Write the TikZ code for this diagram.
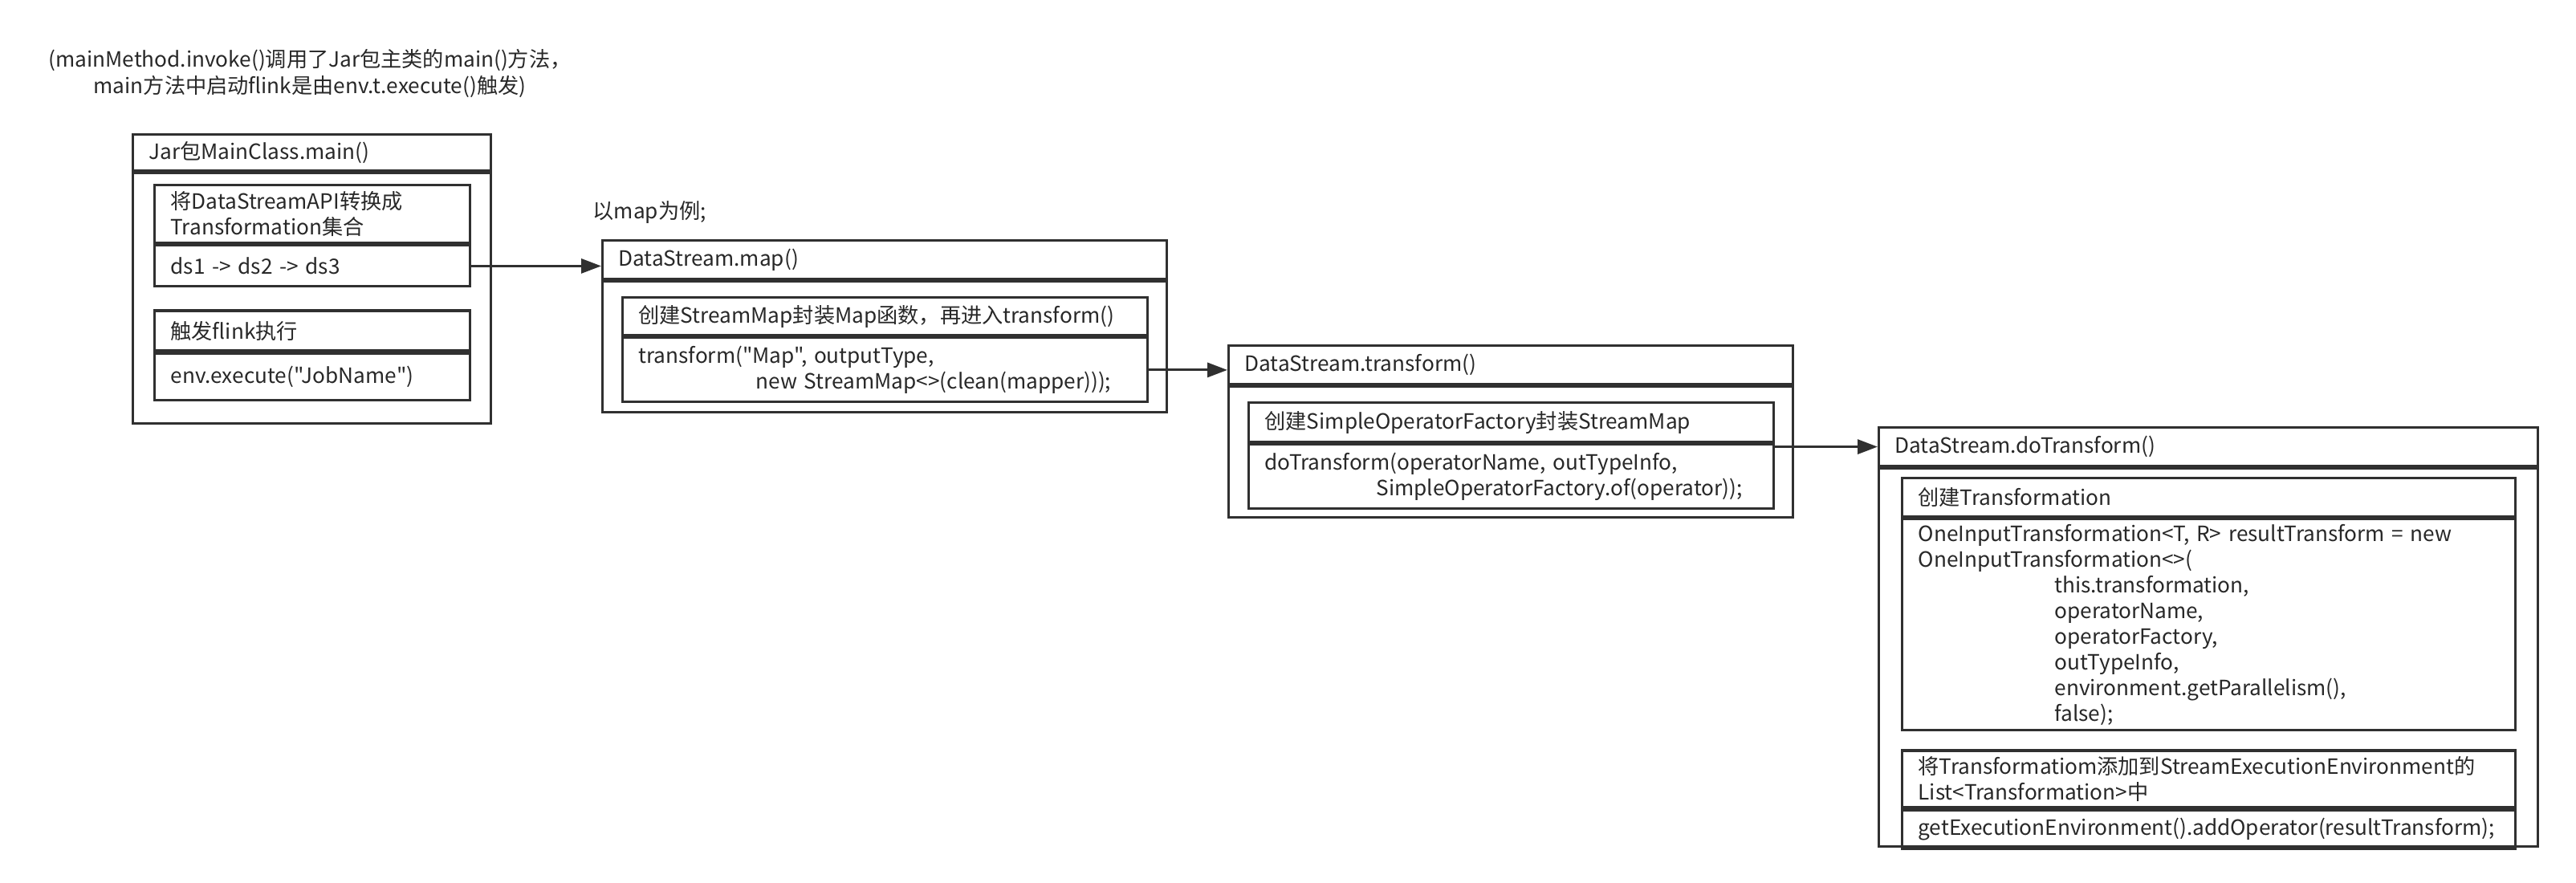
\documentclass[tikz,border=0pt]{standalone}
\usepackage{fontspec}
\setmainfont{Noto Sans CJK SC}[Ligatures=TeXOff]
\usetikzlibrary{shapes,arrows.meta,positioning,calc}
\definecolor{linegray}{RGB}{48,48,48}
\definecolor{textgray}{RGB}{40,40,40}
\hyphenpenalty=10000
\exhyphenpenalty=10000

\begin{document}
\begin{tikzpicture}[
      node distance=0cm and 0cm,
      every node/.style={font=\fontsize{7.45pt}{9.1pt}\selectfont, text=textgray},
      note/.style={inner sep=0pt},
      head/.style={rectangle, draw=linegray, line width=0.9pt, align=left, inner xsep=0.2cm, inner ysep=0pt, text width=#1},
      frame/.style={rectangle, draw=linegray, line width=0.9pt, inner sep=0pt},
      arrow/.style={-{Triangle[length=0.25cm,width=0.18cm]}, line width=0.9pt, draw=linegray}
    ]
      \path[use as bounding box, fill=white] (0,0) rectangle (32.09,-11.00);

      \node[note, align=center, font=\fontsize{7.45pt}{9.4pt}\selectfont] (intro) at (3.86,-0.915) {(mainMethod.invoke()调用了Jar包主类的main()方法，\\main方法中启动flink是由env.t.execute()触发)};

      \node[head=4.06cm, minimum height=0.45cm, anchor=north west] (jarhead) at (1.64,-1.66) {Jar包MainClass.main()};
      \node[frame, minimum width=4.46cm, minimum height=3.12cm, below right=of jarhead.south west] (jarbody) {};
      \node[head=3.53cm, minimum height=0.72cm, below right=0.15cm and 0.27cm of jarbody.north west] (convert) {将DataStreamAPI转换成\\Transformation集合};
      \node[head=3.53cm, minimum height=0.51cm, below right=of convert.south west] (convertcode) {ds1 -> ds2 -> ds3};
      \node[head=3.53cm, minimum height=0.50cm, below right=0.27cm and 0cm of convertcode.south west] (trigger) {触发flink执行};
      \node[head=3.53cm, minimum height=0.58cm, below right=of trigger.south west] (triggercode) {env.execute("JobName")};

      \node[note, anchor=west] (mapnote) at (7.38,-2.65) {以map为例;};
      \node[head=6.63cm, minimum height=0.48cm, anchor=north west] (maphead) at (7.49,-2.98) {DataStream.map()};
      \node[frame, minimum width=7.03cm, minimum height=1.63cm, below right=of maphead.south west] (mapbody) {};
      \node[head=6.14cm, minimum height=0.47cm, below right=0.20cm and 0.25cm of mapbody.north west] (wrapmap) {创建StreamMap封装Map函数，再进入transform()};
      \node[head=6.14cm, minimum height=0.80cm, below right=of wrapmap.south west] (wrapmapcode) {transform("Map", outputType,\\\hspace*{1.46cm}new StreamMap<>(clean(mapper)));};

      \node[head=6.63cm, minimum height=0.48cm, anchor=north west] (tfhead) at (15.29,-4.29) {DataStream.transform()};
      \node[frame, minimum width=7.03cm, minimum height=1.63cm, below right=of tfhead.south west] (tfbody) {};
      \node[head=6.14cm, minimum height=0.49cm, below right=0.20cm and 0.25cm of tfbody.north west] (factory) {创建SimpleOperatorFactory封装StreamMap};
      \node[head=6.14cm, minimum height=0.80cm, below right=of factory.south west] (factorycode) {doTransform(operatorName, outTypeInfo,\\\hspace*{1.39cm}SimpleOperatorFactory.of(operator));};

      \node[head=7.81cm, minimum height=0.48cm, anchor=north west] (dthead) at (23.39,-5.31) {DataStream.doTransform()};
      \node[frame, minimum width=8.21cm, minimum height=4.71cm, below right=of dthead.south west] (dtbody) {};
      \node[head=7.24cm, minimum height=0.48cm, below right=0.12cm and 0.29cm of dtbody.north west] (create) {创建Transformation};
      \node[head=7.24cm, minimum height=2.63cm, below right=of create.south west] (createcode) {OneInputTransformation<T, R> resultTransform = new\\OneInputTransformation<>(\\\hspace*{1.70cm}this.transformation,\\\hspace*{1.70cm}operatorName,\\\hspace*{1.70cm}operatorFactory,\\\hspace*{1.70cm}outTypeInfo,\\\hspace*{1.70cm}environment.getParallelism(),\\\hspace*{1.70cm}false);};
      \node[head=7.24cm, minimum height=0.71cm, below right=0.22cm and 0cm of createcode.south west] (addlist) {将Transformatiom添加到StreamExecutionEnvironment的\\List<Transformation>中};
      \node[head=7.24cm, minimum height=0.48cm, below right=of addlist.south west] (addlistcode) {getExecutionEnvironment().addOperator(resultTransform);};

      \draw[arrow] (convertcode.east) -- (convertcode.east -| maphead.west);
      \draw[arrow] (wrapmapcode.east) -- (wrapmapcode.east -| tfhead.west);
      \draw[arrow] (dthead.west -| factorycode.east) -- (dthead.west);
    \end{tikzpicture}
\end{document}
